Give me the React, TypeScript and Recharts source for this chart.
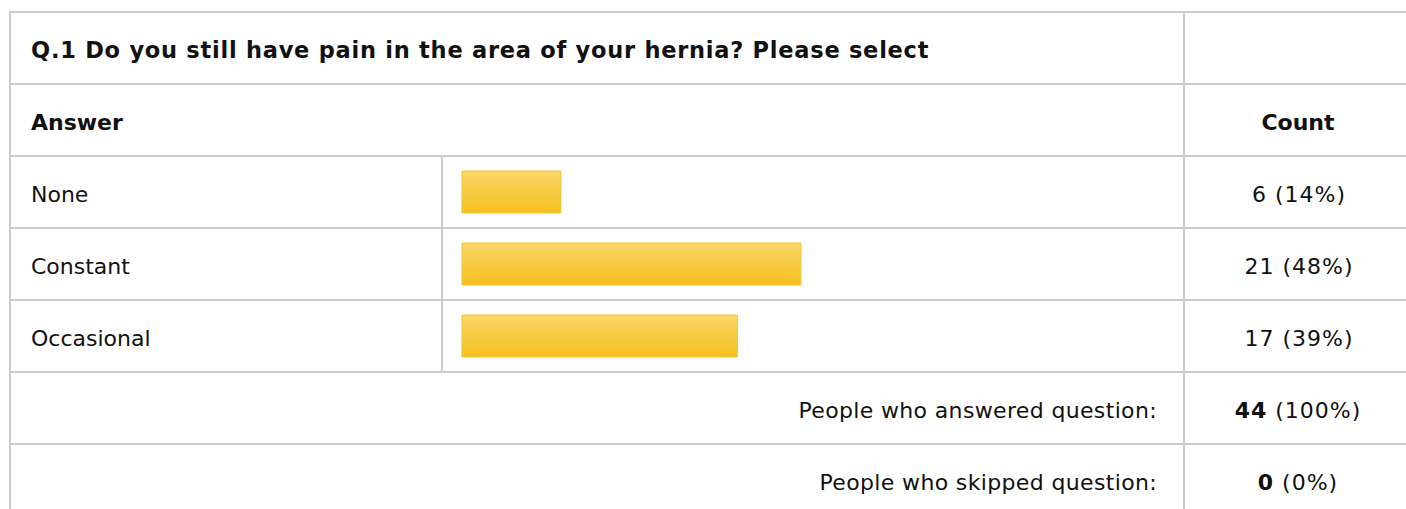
import React from 'react';
import { BarChart, Bar, XAxis, YAxis } from 'recharts';

const questionTitle = 'Q.1 Do you still have pain in the area of your hernia? Please select';
const headerAnswer = 'Answer';
const headerCount = 'Count';
const categories = ['None', 'Constant', 'Occasional'];
const counts = [6, 21, 17];
const percents = [14, 48, 39];
const summaryLabels = ['People who answered question:', 'People who skipped question:'];
const summaryCounts = [44, 0];
const summaryPercents = ['100%', '0%'];

const data = categories.map((c, i) => ({ answer: c, percent: percents[i], count: counts[i] }));

const W = 1406;
const H = 509;
const ROW = 72;
const TOP = 11;
const LINE = '#cccccc';
const TEXT = '#111111';
const FONT = '"DejaVu Sans", Verdana, sans-serif';

const rowTop = (i: number) => TOP + ROW * i;
const baseline = (i: number) => rowTop(i) + 47;

export default function App() {
  const hLines = [0, 1, 2, 3, 4, 5, 6];
  return (
    <div style={{ position: 'absolute', left: 0, top: 0, width: W, height: H, overflow: 'hidden', background: '#fff' }}>
      <svg width={W} height={H} style={{ position: 'absolute', left: 0, top: 0 }}>
        {hLines.map((i) => (
          <rect key={'h' + i} x={9} y={rowTop(i)} width={W - 9} height={2} fill={LINE} />
        ))}
        <rect x={9} y={TOP} width={2} height={H - TOP} fill={LINE} />
        <rect x={1183} y={TOP} width={2} height={H - TOP} fill={LINE} />
        <rect x={441} y={rowTop(2)} width={2} height={ROW * 3 + 2} fill={LINE} />

        <text x={31} y={baseline(0)} fontFamily={FONT} fontWeight="bold" fontSize={22.5} letterSpacing={0.75} fill={TEXT}>
          {questionTitle}
        </text>
        <text x={31} y={baseline(1)} fontFamily={FONT} fontWeight="bold" fontSize={22} fill={TEXT}>
          {headerAnswer}
        </text>
        <text x={1298} y={baseline(1)} textAnchor="middle" fontFamily={FONT} fontWeight="bold" fontSize={22} fill={TEXT}>
          {headerCount}
        </text>
        {categories.map((c, i) => (
          <g key={c}>
            <text x={31} y={baseline(2 + i)} fontFamily={FONT} fontSize={22} fill={TEXT}>
              {c}
            </text>
            <text x={1299} y={baseline(2 + i)} textAnchor="middle" fontFamily={FONT} fontSize={22} letterSpacing={1} fill={TEXT}>
              {`${counts[i]} (${percents[i]}%)`}
            </text>
          </g>
        ))}
        {summaryLabels.map((s, i) => (
          <g key={s}>
            <text x={1157} y={baseline(5 + i)} textAnchor="end" fontFamily={FONT} fontSize={22} letterSpacing={0.35} fill={TEXT}>
              {s}
            </text>
            <text x={1298} y={baseline(5 + i)} textAnchor="middle" fontFamily={FONT} fontSize={22} letterSpacing={1} fill={TEXT}>
              <tspan fontWeight="bold">{summaryCounts[i]}</tspan>
              <tspan>{` (${summaryPercents[i]})`}</tspan>
            </text>
          </g>
        ))}
      </svg>
      <div style={{ position: 'absolute', left: 442, top: rowTop(2) + 1 }}>
        <BarChart
          width={742}
          height={ROW * 3}
          data={data}
          layout="vertical"
          margin={{ top: 0, right: 16, bottom: 0, left: 20 }}
          barCategoryGap={0}
        >
          <defs>
            <linearGradient id="barGrad" x1="0" y1="0" x2="0" y2="1">
              <stop offset="0%" stopColor="#fad768" />
              <stop offset="55%" stopColor="#f7c93e" />
              <stop offset="100%" stopColor="#f5c020" />
            </linearGradient>
          </defs>
          <XAxis type="number" domain={[0, 100]} hide />
          <YAxis type="category" dataKey="answer" hide />
          <Bar
            dataKey="percent"
            barSize={42}
            fill="url(#barGrad)"
            stroke="#f2c22e"
            strokeWidth={1}
            isAnimationActive={false}
          />
        </BarChart>
      </div>
    </div>
  );
}
